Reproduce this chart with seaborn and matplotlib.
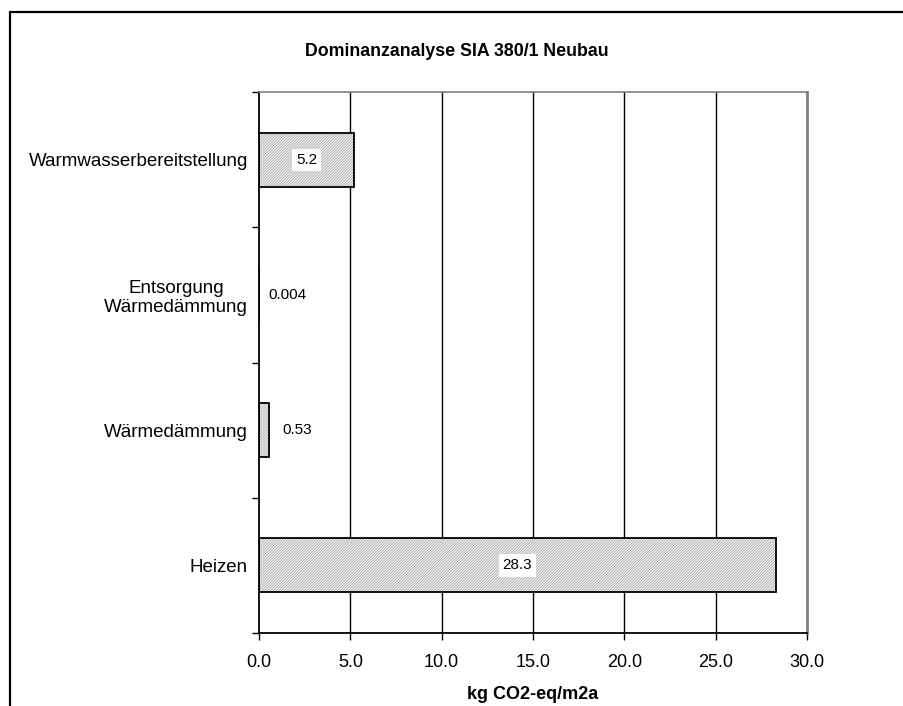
import matplotlib
matplotlib.use("Agg")
import matplotlib.pyplot as plt
import seaborn as sns
import pandas as pd
from matplotlib.patches import Rectangle
from matplotlib.lines import Line2D

categories = ["Warmwasserbereitstellung", "Entsorgung\nWärmedämmung", "Wärmedämmung", "Heizen"]
values = [5.2, 0.004, 0.53, 28.3]
value_labels = ["5.2", "0.004", "0.53", "28.3"]
xticks = [0, 5, 10, 15, 20, 25, 30]
xtick_labels = ["0.0", "5.0", "10.0", "15.0", "20.0", "25.0", "30.0"]
title = "Dominanzanalyse SIA 380/1 Neubau"
xlabel = "kg CO2-eq/m2a"

sns.set_theme(style="white")
plt.rcParams["font.family"] = ["Liberation Sans", "DejaVu Sans"]
plt.rcParams["hatch.linewidth"] = 0.5
plt.rcParams["text.color"] = "black"
plt.rcParams["xtick.color"] = "black"
plt.rcParams["ytick.color"] = "black"
plt.rcParams["axes.labelcolor"] = "black"

df = pd.DataFrame({"cat": categories, "val": values})

fig = plt.figure(figsize=(9.04, 7.06), dpi=100)
fig.patch.set_facecolor("white")
ax = fig.add_axes([259/904, 1-633/706, (807-259)/904, (633-92)/706])

sns.barplot(data=df, y="cat", x="val", orient="h", ax=ax, width=0.4,
            color="#f2f2f2", edgecolor="#a0a0a0", linewidth=0, hatch="/" * 12,
            saturation=1, zorder=3)

# outlines on top of the hatched bars
for p in list(ax.patches):
    ax.add_patch(Rectangle(p.get_xy(), p.get_width(), p.get_height(),
                           fill=False, edgecolor="black", linewidth=1.3, zorder=4))

ax.set_xlim(0, 30)
ax.set_ylim(len(categories) - 0.5, -0.5)
ax.set_xticks(xticks)
ax.set_xticklabels(xtick_labels, fontsize=13)
ax.set_yticks(range(len(categories)))
ax.set_yticklabels(categories, fontsize=13.5, multialignment="center")
ax.set_yticks([i - 0.5 for i in range(len(categories) + 1)], minor=True)
ax.tick_params(axis="y", which="major", length=0, pad=8)
ax.tick_params(axis="y", which="minor", length=5, width=1, color="black", left=True)
ax.tick_params(axis="x", which="major", length=5, width=1, color="black", bottom=True, pad=10)
ax.set_ylabel("")
ax.set_xlabel(xlabel, fontsize=13, fontweight="bold", labelpad=11)

for x in xticks[1:-1]:
    ax.axvline(x, color="black", linewidth=1.0, zorder=1)

for s in ["left", "bottom"]:
    ax.spines[s].set_color("black")
    ax.spines[s].set_linewidth(1.3)
ax.spines["right"].set_color("#808080")
ax.spines["right"].set_linewidth(2)
ax.spines["top"].set_color("#808080")
ax.spines["top"].set_linewidth(1.2)
for s in ax.spines.values():
    s.set_zorder(5)

for i, (v, lab) in enumerate(zip(values, value_labels)):
    if v > 2:
        ax.text(v / 2, i, lab, ha="center", va="center", fontsize=11, zorder=6,
                bbox=dict(facecolor="white", edgecolor="none", pad=3))
    else:
        off = 7 if v < 0.1 else 10
        ax.annotate(lab, (v, i), xytext=(off, 0), textcoords="offset points",
                    ha="left", va="center", fontsize=11, zorder=6)

fig.text(457/904, 1-52/706, title, ha="center", va="center", fontsize=12.8, fontweight="bold")

# outer chart frame (extends past the image edges)
fig.add_artist(Line2D([9.5/904, 9.5/904], [0, 1-11.8/706], transform=fig.transFigure,
                      color="black", linewidth=1.6))
fig.add_artist(Line2D([9.5/904, 1], [1-11.8/706, 1-11.8/706], transform=fig.transFigure,
                      color="black", linewidth=1.6))

fig.savefig("out.png", dpi=100)
